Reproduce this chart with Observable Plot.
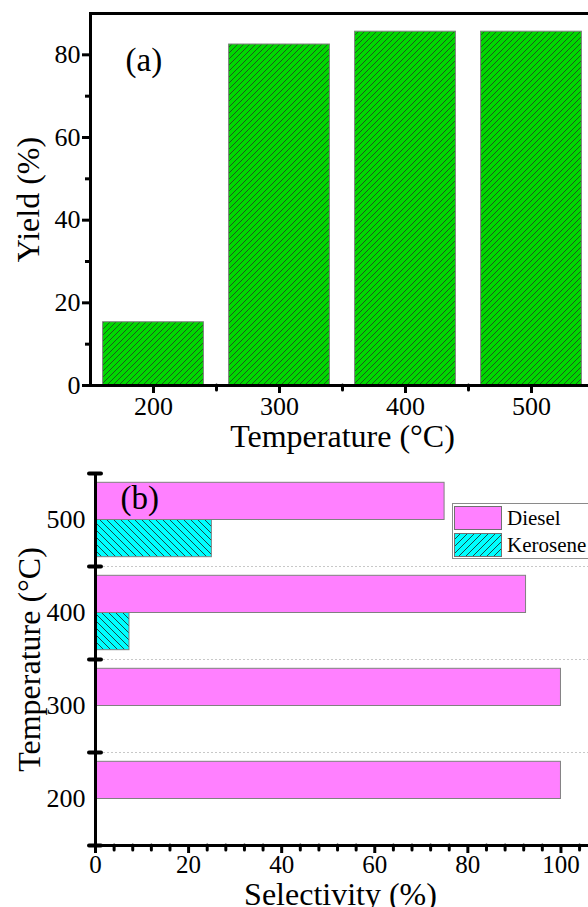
<!DOCTYPE html>
<html><head><meta charset="utf-8">
<script src="https://cdn.jsdelivr.net/npm/d3@7"></script>
<script src="https://cdn.jsdelivr.net/npm/@observablehq/plot@0.6"></script>
<style>
html,body{margin:0;padding:0;background:#fff;overflow:hidden;}
#wrap{position:relative;width:588px;height:907px;overflow:hidden;font-family:"Liberation Serif","Times New Roman",serif;}
#wrap > svg{position:absolute;left:0;}
#legend{position:absolute;left:452px;top:503px;width:150px;height:54px;border:1.5px solid #8a8a8a;background:#fff;}
#legend .row{position:absolute;left:1px;height:24px;display:flex;align-items:center;}
#legend .row svg{display:block;margin-right:5px;}
#legend .row span{font-size:21px;color:#000;line-height:24px;font-family:"Liberation Serif","Times New Roman",serif;}
</style></head><body><div id="wrap"></div>
<script>
// ---- data ----
const temperatures = [200, 300, 400, 500];
const yieldValues = [15.3, 82.5, 85.6, 85.6];
const dieselSel = [100, 100, 92.5, 75];
const keroseneSel = [0, 0, 7.3, 25];
const seriesNames = ["Diesel", "Kerosene"];
const yieldTicks = [0, 20, 40, 60, 80];
const yieldMinorTicks = [10, 30, 50, 70];
const tempMinorTicks = [250, 350, 450];
const selTicks = [0, 20, 40, 60, 80, 100];
const selMinorTicks = [4,8,12,16,24,28,32,36,44,48,52,56,64,68,72,76,84,88,92,96,104,108];
const tempBoundaries = [150, 250, 350, 450, 550];
const gridBoundaries = [250, 350, 450];

const FONT = '"Liberation Serif","Times New Roman",serif';
const wrap = document.getElementById("wrap");

const yieldData = temperatures.map((t, i) => ({t, v: yieldValues[i]}));
const barHalf = 40; // bar half-width (°C units)

const plotA = Plot.plot({
  width: 610, height: 455,
  marginLeft: 90, marginRight: 16, marginTop: 13, marginBottom: 70,
  x: {domain: [150, 550]},
  y: {domain: [0, 90]},
  style: {fontFamily: FONT, fontSize: "25px", color: "black", background: "transparent", maxWidth: "none", overflow: "visible"},
  marks: [
    Plot.rectY(yieldData, {x1: d => d.t - barHalf, x2: d => d.t + barHalf, y1: 0, y2: "v", fill: "url(#hatchGreen)", stroke: "#808080", strokeWidth: 1}),
    Plot.frame({stroke: "black", strokeWidth: 3}),
    Plot.axisY({ticks: yieldTicks, tickSize: 8, tickPadding: 2, strokeWidth: 3, label: null, fontSize: 26, fontFamily: FONT}),
    Plot.axisY({ticks: yieldMinorTicks, tickSize: 5, text: null, strokeWidth: 3, label: null}),
    Plot.axisX({ticks: temperatures, tickSize: 8, tickPadding: 3, strokeWidth: 3, label: null, fontSize: 26, fontFamily: FONT}),
    Plot.axisX({ticks: tempMinorTicks, tickSize: 5, text: null, strokeWidth: 3, strokeLinecap: "round", label: null}),
    Plot.text(["Yield (%)"], {frameAnchor: "left", textAnchor: "middle", dx: -62, rotate: -90, fontSize: 32, fontFamily: FONT}),
    Plot.text(["Temperature (°C)"], {frameAnchor: "bottom", textAnchor: "middle", lineAnchor: "top", dy: 39, fontSize: 32, fontFamily: FONT}),
    Plot.text(["(a)"], {frameAnchor: "top-left", textAnchor: "start", lineAnchor: "top", dx: 35, dy: 34, fontSize: 33, fontFamily: FONT})
  ]
});
plotA.style.top = "0px";
d3.select(plotA).insert("defs", ":first-child").html(
  `<pattern id="hatchGreen" patternUnits="userSpaceOnUse" width="6" height="6">
     <rect width="6" height="6" fill="#00d800"/>
     <path d="M-1,1 l2,-2 M0,6 l6,-6 M5,7 l2,-2" stroke="#1c5a1c" stroke-width="1"/>
   </pattern>`);
wrap.appendChild(plotA);

// panel b
const selData = [];
temperatures.forEach((t, i) => {
  selData.push({t, series: seriesNames[0], v: dieselSel[i], y1: t, y2: t + barHalf});
  if (keroseneSel[i] > 0) selData.push({t, series: seriesNames[1], v: keroseneSel[i], y1: t - barHalf, y2: t});
});

const plotB = Plot.plot({
  width: 617, height: 452,
  marginLeft: 95, marginRight: 10, marginTop: 18, marginBottom: 62,
  x: {domain: [0, 110]},
  y: {domain: [150, 550]},
  style: {fontFamily: FONT, fontSize: "25px", color: "black", background: "transparent", maxWidth: "none", overflow: "visible"},
  marks: [
    Plot.ruleY(gridBoundaries, {stroke: "#c8c8c8", strokeDasharray: "2,2", strokeWidth: 1}),
    Plot.rectX(selData.filter(d => d.series === "Diesel"), {x1: 0, x2: "v", y1: "y1", y2: "y2", fill: "#ff80ff", stroke: "#808080", strokeWidth: 1}),
    Plot.rectX(selData.filter(d => d.series === "Kerosene"), {x1: 0, x2: "v", y1: "y1", y2: "y2", fill: "url(#hatchCyan)", stroke: "#808080", strokeWidth: 1}),
    Plot.ruleX([0], {stroke: "black", strokeWidth: 3}),
    Plot.ruleY([150], {stroke: "black", strokeWidth: 3}),
    Plot.axisX({ticks: selTicks, tickSize: 8, tickPadding: 2, strokeWidth: 3, label: null, fontSize: 25, fontFamily: FONT}),
    Plot.axisX({ticks: selMinorTicks, tickSize: 5, text: null, strokeWidth: 3, strokeLinecap: "round", label: null}),
    Plot.axisY({ticks: temperatures, tickSize: 0, tickPadding: 10, label: null, fontSize: 26, fontFamily: FONT}),
    Plot.axisY({ticks: tempBoundaries, tickSize: 12, dx: 6, text: null, strokeWidth: 4, strokeLinecap: "round", label: null}),
    Plot.text(["Temperature (°C)"], {frameAnchor: "left", textAnchor: "middle", dx: -66, rotate: -90, fontSize: 32, fontFamily: FONT}),
    Plot.text(["Selectivity (%)"], {frameAnchor: "bottom", textAnchor: "middle", lineAnchor: "top", dy: 37, dx: -11, fontSize: 32, fontFamily: FONT}),
    Plot.text(["(b)"], {frameAnchor: "top-left", textAnchor: "start", lineAnchor: "top", dx: 25, dy: 12, fontSize: 33, fontFamily: FONT})
  ]
});
plotB.style.top = "455px";
d3.select(plotB).insert("defs", ":first-child").html(
  `<pattern id="hatchCyan" patternUnits="userSpaceOnUse" width="7" height="7">
     <rect width="7" height="7" fill="#00ffff"/>
     <path d="M-1,6 l2,2 M0,0 l7,7 M6,-1 l2,2" stroke="#1a4a4a" stroke-width="1"/>
   </pattern>`);
wrap.appendChild(plotB);

// legend
const legend = document.createElement("div");
legend.id = "legend";
const swatches = [
  `<svg width="48" height="24"><rect x="0.5" y="0.5" width="47" height="23" fill="#ff80ff" stroke="#707070"/></svg>`,
  `<svg width="48" height="24"><defs><pattern id="hatchCyanL" patternUnits="userSpaceOnUse" width="7" height="7"><rect width="7" height="7" fill="#00ffff"/><path d="M-1,1 l2,-2 M0,7 l7,-7 M6,8 l2,-2" stroke="#1a4a4a" stroke-width="1"/></pattern></defs><rect x="0.5" y="0.5" width="47" height="23" fill="url(#hatchCyanL)" stroke="#707070"/></svg>`
];
seriesNames.forEach((name, i) => {
  const row = document.createElement("div");
  row.className = "row";
  row.style.top = (2 + i * 27) + "px";
  row.innerHTML = swatches[i] + `<span>${name}</span>`;
  legend.appendChild(row);
});
wrap.appendChild(legend);
</script></body></html>
